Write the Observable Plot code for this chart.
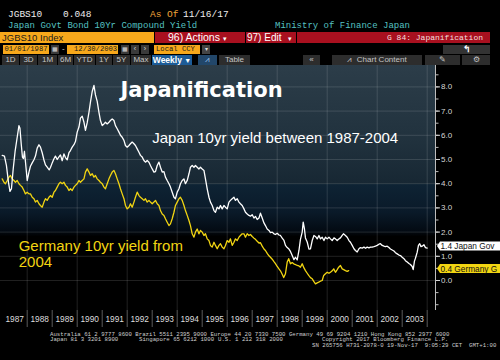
<!DOCTYPE html>
<html><head><meta charset="utf-8">
<script src="https://cdn.jsdelivr.net/npm/d3@7"></script>
<script src="https://cdn.jsdelivr.net/npm/@observablehq/plot@0.6"></script>
<style>
html,body{margin:0;padding:0;background:#000;}
body{width:500px;height:360px;overflow:hidden;position:relative;font-family:"Liberation Sans",Arial,sans-serif;}
.a{position:absolute;white-space:pre;line-height:1;}
.mono{font-family:"Liberation Mono","DejaVu Sans Mono",monospace;}
.b{position:absolute;white-space:pre;overflow:hidden;box-sizing:border-box;}
#chart{position:absolute;left:0;top:65px;}
.tab{background:#2d2d2d;color:#c4c4c4;font-size:8px;text-align:center;top:55px;height:10px;line-height:10px;}
.foot{position:absolute;white-space:pre;font-family:"Liberation Mono","DejaVu Sans Mono",monospace;font-size:5.7px;color:#cfcfcf;line-height:1;}
</style></head><body>

<!-- row 1 -->
<div class="a mono" style="left:8px;top:9.5px;font-size:9.5px;color:#eee">JGBS10</div>
<div class="a mono" style="left:63px;top:9.5px;font-size:9.5px;color:#eee">0.048</div>
<div class="a mono" style="left:150px;top:9.5px;font-size:9.5px;color:#f0a43a">As Of</div>
<div class="a mono" style="left:183px;top:9.5px;font-size:9.5px;color:#eee">11/16/17</div>
<!-- row 2 -->
<div class="a mono" style="left:8px;top:21.5px;font-size:9px;color:#55c2c2">Japan Govt Bond 10Yr Compound Yield</div>
<div class="a mono" style="left:275px;top:21.5px;font-size:9px;color:#55c2c2">Ministry of Finance Japan</div>
<!-- row 3 -->
<div class="b" style="left:0;top:32px;width:154px;height:11px;background:#f7a81b;color:#1a1a1a;font-size:9.5px;line-height:11px;padding-left:2px">JGBS10 Index</div>
<div class="b" style="left:155px;top:32px;width:90px;height:11px;background:#a8101f;color:#fff;font-size:10.5px;line-height:11px;padding-left:13px">96) Actions <span style="font-size:7px">▾</span></div>
<div class="b" style="left:246px;top:32px;width:50px;height:11px;background:#a8101f;color:#fff;font-size:10px;line-height:11px;padding-left:1px">97) Edit <span style="font-size:7px;padding-left:4px">▾</span></div>
<div class="b mono" style="left:297px;top:32px;width:193px;height:11px;background:#a8101f;color:#f3dede;font-size:8px;line-height:11px;text-align:right;padding-right:7px">G 84: Japanification</div>
<!-- row 4 -->
<div class="b mono" style="left:3px;top:45px;width:46px;height:8.5px;background:#f7a81b;color:#1a1a1a;font-size:7.2px;line-height:8.5px;text-align:center">01/01/1987</div>
<div class="b" style="left:51px;top:45px;width:8px;height:8.5px;background:#3a3a3a;color:#ddd;font-size:6px;line-height:8.5px;text-align:center">▦</div>
<div class="a" style="left:62px;top:45px;font-size:8px;color:#ddd">-</div>
<div class="b mono" style="left:67px;top:45px;width:51px;height:8.5px;background:#f7a81b;color:#1a1a1a;font-size:7.2px;line-height:8.5px;padding-left:7px">12/30/2003</div>
<div class="b" style="left:121px;top:45px;width:8px;height:8.5px;background:#3a3a3a;color:#ddd;font-size:6px;line-height:8.5px;text-align:center">▦</div>
<div class="b" style="left:131px;top:45px;width:8px;height:8.5px;background:#3a3a3a;color:#ddd;font-size:7px;line-height:8.5px;text-align:center">‹</div>
<div class="b" style="left:141px;top:45px;width:8px;height:8.5px;background:#3a3a3a;color:#ddd;font-size:7px;line-height:8.5px;text-align:center">›</div>
<div class="b mono" style="left:154px;top:45px;width:46px;height:8.5px;background:#f7a81b;color:#1a1a1a;font-size:7.2px;line-height:8.5px;padding-left:2px">Local CCY</div>
<div class="b" style="left:202px;top:45px;width:8px;height:8.5px;background:#444;color:#ddd;font-size:6px;line-height:8.5px;text-align:center">▾</div>
<div class="b" style="left:443px;top:45px;width:47px;height:8.5px;background:#333;color:#fff;font-size:9px;line-height:8.5px;text-align:center;font-weight:bold">↰</div>
<!-- row 5 -->
<div class="b tab" style="left:2px;width:17px">1D</div>
<div class="b tab" style="left:20px;width:17px">3D</div>
<div class="b tab" style="left:38px;width:19px">1M</div>
<div class="b tab" style="left:58px;width:15px">6M</div>
<div class="b tab" style="left:74px;width:21px">YTD</div>
<div class="b tab" style="left:96px;width:16px">1Y</div>
<div class="b tab" style="left:113px;width:17px">5Y</div>
<div class="b tab" style="left:131px;width:20px">Max</div>
<div class="b tab" style="left:152px;width:40px;background:#1d5c98;color:#fff;font-weight:bold;font-size:8.5px">Weekly <span style="font-size:7px">▼</span></div>
<div class="b tab" style="left:198px;width:19px;background:#22476a;color:#9cc4ea;font-size:8px">⩘</div>
<div class="b tab" style="left:219px;width:31px">Table</div>
<div class="b tab" style="left:303px;width:17px">«</div>
<div class="b tab" style="left:332px;width:90px">⩘  Chart Content</div>
<div class="b tab" style="left:425px;width:35px">✎</div>
<div class="b tab" style="left:462px;width:28px">⚙</div>

<div id="chart"></div>

<div class="foot" style="left:50px;top:331.5px">Australia 61 2 9777 8600 Brazil 5511 2395 9000 Europe 44 20 7330 7500 Germany 49 69 9204 1210 Hong Kong 852 2977 6000</div>
<div class="foot" style="left:50px;top:337px">Japan 81 3 3201 8900</div>
<div class="foot" style="left:139px;top:337px">Singapore 65 6212 1000</div>
<div class="foot" style="left:218px;top:337px">U.S. 1 212 318 2000</div>
<div class="foot" style="left:322px;top:337px">Copyright 2017 Bloomberg Finance L.P.</div>
<div class="foot" style="left:312px;top:342.5px">SN 265756 H731-2078-0 19-Nov-17  9:05:29 CET  GMT+1:00</div>

<script>
// ---- data (decimal year, yield %) ----
const japanYear = [1987.00,1987.09,1987.17,1987.25,1987.31,1987.37,1987.44,1987.52,1987.60,1987.67,1987.71,1987.76,1987.81,1987.85,1987.89,1987.95,
1988.00,1988.07,1988.13,1988.20,1988.27,1988.33,1988.40,1988.47,1988.53,1988.60,1988.67,1988.73,1988.80,1988.88,1988.93,
1989.00,1989.07,1989.13,1989.20,1989.27,1989.33,1989.40,1989.47,1989.53,1989.60,1989.67,1989.73,1989.80,1989.87,1989.93,
1990.00,1990.07,1990.13,1990.20,1990.27,1990.33,1990.40,1990.47,1990.53,1990.60,1990.67,1990.73,1990.80,1990.87,1990.93,
1991.00,1991.07,1991.13,1991.20,1991.27,1991.33,1991.40,1991.47,1991.53,1991.60,1991.67,1991.73,1991.80,1991.87,1991.93,
1992.00,1992.07,1992.13,1992.20,1992.27,1992.33,1992.40,1992.47,1992.53,1992.60,1992.67,1992.73,1992.80,1992.87,1992.93,
1993.00,1993.07,1993.13,1993.20,1993.27,1993.33,1993.40,1993.47,1993.53,1993.60,1993.67,1993.73,1993.80,1993.87,1993.93,
1994.00,1994.07,1994.13,1994.20,1994.27,1994.33,1994.40,1994.47,1994.53,1994.60,1994.67,1994.73,1994.80,1994.87,1994.93,
1995.00,1995.07,1995.13,1995.20,1995.27,1995.33,1995.40,1995.47,1995.53,1995.60,1995.67,1995.73,1995.80,1995.87,1995.93,
1996.00,1996.07,1996.13,1996.20,1996.27,1996.33,1996.40,1996.47,1996.53,1996.60,1996.67,1996.73,1996.80,1996.87,1996.93,
1997.00,1997.07,1997.13,1997.20,1997.27,1997.33,1997.40,1997.47,1997.53,1997.60,1997.67,1997.73,1997.80,1997.87,1997.93,
1998.00,1998.07,1998.13,1998.20,1998.27,1998.33,1998.40,1998.47,1998.53,1998.60,1998.67,1998.73,1998.80,1998.87,1998.93,
1999.00,1999.04,1999.09,1999.13,1999.20,1999.27,1999.33,1999.40,1999.47,1999.53,1999.60,1999.67,1999.73,1999.80,1999.87,1999.93,
2000.00,2000.07,2000.13,2000.20,2000.27,2000.33,2000.40,2000.47,2000.53,2000.60,2000.65,2000.73,2000.80,2000.87,2000.93,
2001.00,2001.07,2001.13,2001.20,2001.27,2001.33,2001.40,2001.47,2001.53,2001.60,2001.67,2001.73,2001.80,2001.87,2001.93,
2002.00,2002.07,2002.13,2002.20,2002.27,2002.33,2002.40,2002.47,2002.53,2002.60,2002.67,2002.73,2002.80,2002.87,2002.93,
2003.00,2003.07,2003.13,2003.20,2003.27,2003.33,2003.40,2003.44,2003.49,2003.53,2003.60,2003.65,2003.70,2003.75,2003.80,2003.87,2003.93,2004.00];
const japanYield = [5.17,5.14,4.75,4.06,3.68,3.79,4.61,5.37,5.92,6.40,6.29,5.65,5.10,5.04,5.34,4.69,
4.13,4.48,4.72,4.86,4.99,5.14,5.47,5.61,5.51,5.28,4.98,4.78,4.68,4.57,4.67,
4.86,5.03,5.14,5.00,5.11,5.19,4.95,5.23,5.08,4.99,5.28,5.37,5.51,5.61,5.74,
6.13,6.34,6.71,6.79,6.54,6.20,6.52,6.95,7.37,7.81,8.06,7.67,7.40,6.95,6.61,
6.40,6.47,6.54,6.47,6.54,6.61,6.68,6.61,6.40,6.27,6.13,6.00,5.92,5.79,5.58,
5.51,5.58,5.65,5.72,5.65,5.58,5.44,5.30,5.17,5.10,4.96,4.89,4.96,4.89,4.75,
4.61,4.48,4.50,4.75,4.89,4.68,4.48,4.50,4.27,4.13,4.00,3.86,3.65,3.44,3.38,
3.65,3.79,4.00,4.13,4.20,4.00,4.13,4.41,4.68,4.75,4.68,4.75,4.68,4.61,4.68,
4.61,4.55,4.20,3.79,3.44,3.24,3.10,2.89,2.82,3.03,2.96,3.10,2.96,3.10,3.03,
2.96,3.24,3.31,3.38,3.44,3.31,3.38,3.24,3.17,3.10,2.96,2.82,2.75,2.69,2.66,
2.72,2.58,2.65,2.52,2.58,2.78,2.58,2.38,2.27,2.13,2.07,1.98,2.00,1.93,1.90,
1.95,1.88,1.86,1.75,1.66,1.45,1.36,1.30,1.20,1.03,0.86,0.96,0.85,1.24,1.70,
2.00,2.41,2.13,1.76,1.59,1.30,1.31,1.65,1.86,1.82,1.72,1.86,1.72,1.79,1.65,1.79,
1.72,1.79,1.72,1.65,1.76,1.72,1.65,1.72,1.76,1.86,1.93,1.86,1.79,1.65,1.58,
1.45,1.31,1.24,1.18,1.31,1.36,1.34,1.38,1.33,1.38,1.35,1.38,1.38,1.40,1.42,
1.45,1.50,1.52,1.45,1.42,1.40,1.42,1.36,1.30,1.26,1.22,1.15,1.10,1.05,1.03,
0.96,0.90,0.82,0.76,0.70,0.66,0.58,0.45,0.80,0.92,1.17,1.45,1.52,1.40,1.42,1.48,1.36,1.34];

const germanyYear = [1987.00,1987.07,1987.13,1987.20,1987.27,1987.33,1987.40,1987.47,1987.53,1987.60,1987.67,1987.73,1987.80,1987.87,1987.93,
1988.00,1988.07,1988.13,1988.20,1988.27,1988.33,1988.40,1988.47,1988.53,1988.60,1988.67,1988.73,1988.80,1988.87,1988.93,
1989.00,1989.07,1989.13,1989.20,1989.27,1989.33,1989.40,1989.47,1989.53,1989.60,1989.67,1989.73,1989.80,1989.87,1989.93,
1990.00,1990.07,1990.13,1990.20,1990.27,1990.33,1990.40,1990.47,1990.53,1990.60,1990.67,1990.73,1990.80,1990.87,1990.93,
1991.00,1991.07,1991.13,1991.20,1991.27,1991.33,1991.40,1991.47,1991.53,1991.60,1991.67,1991.73,1991.80,1991.87,1991.93,
1992.00,1992.07,1992.13,1992.20,1992.27,1992.33,1992.40,1992.47,1992.53,1992.60,1992.67,1992.73,1992.80,1992.87,1992.93,
1993.00,1993.07,1993.13,1993.20,1993.27,1993.33,1993.40,1993.47,1993.53,1993.60,1993.67,1993.73,1993.80,1993.87,1993.93,
1994.00,1994.07,1994.13,1994.20,1994.27,1994.33,1994.40,1994.47,1994.53,1994.60,1994.67,1994.73,1994.80,1994.87,1994.93,
1995.00,1995.07,1995.13,1995.20,1995.27,1995.33,1995.40,1995.47,1995.53,1995.60,1995.67,1995.73,1995.80,1995.87,1995.93,
1996.00,1996.07,1996.13,1996.20,1996.27,1996.33,1996.40,1996.47,1996.53,1996.60,1996.67,1996.73,1996.80,1996.87,1996.93,
1997.00,1997.07,1997.13,1997.20,1997.27,1997.33,1997.40,1997.47,1997.53,1997.60,1997.67,1997.73,1997.80,1997.87,1997.93,
1998.00,1998.07,1998.13,1998.20,1998.26,1998.33,1998.40,1998.46,1998.53,1998.60,1998.66,1998.73,1998.80,1998.87,1998.93,
1999.00,1999.07,1999.13,1999.20,1999.26,1999.33,1999.40,1999.47,1999.53,1999.60,1999.66,1999.73,1999.80,1999.86,1999.93,
2000.00,2000.07,2000.13,2000.20,2000.26,2000.33,2000.40,2000.46,2000.53,2000.60,2000.66,2000.73,2000.80,2000.86];
const germanyYield = [4.20,4.06,4.00,4.13,4.27,4.34,4.20,4.13,4.06,4.13,4.00,3.93,3.86,3.72,3.58,
3.65,3.58,3.58,3.44,3.38,3.24,3.31,3.17,3.10,3.03,3.24,3.38,3.31,3.44,3.51,
3.44,3.65,3.72,3.86,4.00,4.06,4.00,4.06,3.93,3.86,3.72,3.79,3.72,3.86,3.93,
4.00,4.13,4.06,4.13,4.20,4.48,4.61,4.48,4.34,4.41,4.27,4.34,4.20,4.13,4.06,
4.00,3.86,3.79,4.00,4.20,4.34,4.48,4.55,4.41,4.20,4.00,3.79,3.58,3.38,3.10,
2.96,3.03,3.17,3.03,3.24,3.44,3.65,3.51,3.44,3.38,3.31,3.38,3.24,3.31,3.24,
3.17,3.24,3.31,3.17,3.10,2.89,2.75,2.69,2.55,2.41,2.27,2.34,2.55,2.82,3.10,
3.24,3.38,3.44,3.31,3.10,2.89,2.69,2.48,2.27,1.93,1.79,2.00,2.13,1.93,2.07,
2.00,1.86,1.93,1.72,1.65,1.45,1.38,1.58,1.45,1.31,1.45,1.52,1.38,1.31,1.45,
1.65,1.58,1.72,1.45,1.58,1.72,1.65,1.79,1.86,1.93,1.93,1.79,1.93,1.86,1.90,
1.82,1.75,1.70,1.62,1.55,1.56,1.42,1.30,1.24,1.12,1.02,0.96,0.88,0.78,0.70,
0.58,0.48,0.40,0.26,0.12,0.28,0.76,0.90,0.69,0.74,0.69,0.66,0.62,0.60,0.55,
0.69,0.52,0.41,0.30,0.21,0.12,0.07,-0.05,-0.14,-0.10,-0.07,-0.03,0.00,0.21,0.28,
0.34,0.30,0.34,0.40,0.48,0.34,0.45,0.55,0.62,0.48,0.45,0.41,0.38,0.41];

const yearTicks = d3.range(1988, 2005);            // separators
const yearLabels = d3.range(1987, 2004);           // "1987" ... "2003"
const gridYears = d3.range(1988, 2005, 2);
const yTicks = d3.range(0, 9);
const yMinor = d3.range(-1, 8.6, 0.5);
const annotations = [
  {x: 1991.73, y: 8.24, text: "Japanification", font: "DejaVu Sans", size: 21, weight: "bold", color: "#ffffff"},
  {x: 1993.0, y: 6.15, text: "Japan 10yr yield between 1987-2004", font: "Liberation Sans", size: 15, weight: "normal", color: "#ffffff"},
  {x: 1987.66, y: 1.68, text: "Germany 10yr yield from\n2004", font: "Liberation Sans", size: 15, weight: "normal", color: "#f2d512"}
];
const endTags = [
  {value: japanYield[japanYield.length - 1], label: "1.4 Japan Gov", fill: "#ffffff"},
  {value: germanyYield[germanyYield.length - 1], label: "0.4 Germany G", fill: "#f2d512"}
];

const japan = japanYear.map((t, i) => ({t, v: japanYield[i]}));
const germany = germanyYear.map((t, i) => ({t, v: germanyYield[i]}));

function background(index, scales, values, dim) {
  const ns = "http://www.w3.org/2000/svg";
  const g = document.createElementNS(ns, "g");
  g.innerHTML = `<defs><linearGradient id="bg" x1="0" y1="0" x2="0" y2="1">
    <stop offset="0" stop-color="#2c3d49"/>
    <stop offset="0.30" stop-color="#21323e"/>
    <stop offset="0.486" stop-color="#172733"/>
    <stop offset="0.487" stop-color="#0e2334"/>
    <stop offset="0.60" stop-color="#0a1a29"/>
    <stop offset="0.68" stop-color="#030a12"/>
    <stop offset="0.70" stop-color="#000000"/>
    <stop offset="1" stop-color="#000000"/>
  </linearGradient></defs>`;
  const r = document.createElementNS(ns, "rect");
  r.setAttribute("x", dim.marginLeft);
  r.setAttribute("y", dim.marginTop);
  r.setAttribute("width", dim.width - dim.marginLeft - dim.marginRight);
  r.setAttribute("height", dim.height - dim.marginTop - dim.marginBottom);
  r.setAttribute("fill", "url(#bg)");
  g.appendChild(r);
  return g;
}

function endLabels(index, scales, values, dim) {
  const ns = "http://www.w3.org/2000/svg";
  const g = document.createElementNS(ns, "g");
  g.setAttribute("text-anchor", "start");
  const x0 = dim.width - dim.marginRight + 2;
  for (const d of endTags) {
    const y = scales.y(d.value) - 1.5;
    const gg = document.createElementNS(ns, "g");
    gg.setAttribute("transform", `translate(${x0},${y})`);
    const p = document.createElementNS(ns, "path");
    p.setAttribute("d", "M0,0L3,-4.5L70,-4.5L70,4.5L3,4.5Z");
    p.setAttribute("fill", d.fill);
    gg.appendChild(p);
    const t = document.createElementNS(ns, "text");
    t.setAttribute("x", 3.5);
    t.setAttribute("dy", "0.36em");
    t.setAttribute("text-anchor", "start");
    t.setAttribute("fill", "#111");
    t.setAttribute("font-size", "8.3px");
    t.setAttribute("font-family", "Liberation Sans, Arial, sans-serif");
    t.textContent = d.label;
    gg.appendChild(t);
    g.appendChild(gg);
  }
  return g;
}

const plot = Plot.plot({
  width: 500,
  height: 265,
  marginLeft: 0,
  marginRight: 65,
  marginTop: 0,
  marginBottom: 20,
  style: {background: "transparent", color: "#dcdcdc", fontFamily: "Liberation Sans, Arial, sans-serif", fontSize: "8.5px"},
  x: {type: "linear", domain: [1986.932, 2004.332], axis: null},
  y: {domain: [-1.2397, 8.8843], axis: null},
  marks: [
    background,
    Plot.ruleY(yTicks, {stroke: "#ffffff", strokeOpacity: 0.13, strokeWidth: 1}),
    Plot.ruleX(gridYears, {stroke: "#ffffff", strokeOpacity: 0.13, strokeWidth: 1}),
    Plot.ruleX([2004.332], {stroke: "#bdbdbd", strokeWidth: 1}),
    Plot.line(germany, {x: "t", y: "v", stroke: "#f2d512", strokeWidth: 1.3}),
    Plot.line(japan, {x: "t", y: "v", stroke: "#ffffff", strokeWidth: 1.3}),
    ...annotations.map(a => Plot.text([a], {x: "x", y: "y", text: "text", textAnchor: "start", lineAnchor: "top", lineHeight: 1.05,
      fill: a.color, fontSize: a.size, fontWeight: a.weight, fontFamily: a.font})),
    Plot.axisY({anchor: "right", ticks: yMinor, tickSize: 2.5, tickFormat: () => "", color: "#bdbdbd"}),
    Plot.axisY({anchor: "right", ticks: yTicks, tickSize: 4, tickPadding: 1.5, tickFormat: d => d.toFixed(1), color: "#d6d6d6", fontSize: 8}),
    Plot.axisX({anchor: "bottom", ticks: yearTicks, tickSize: 17, tickFormat: () => "", color: "#5a5a5a"}),
    Plot.axisX({anchor: "bottom", ticks: yearLabels.map(y => y + 0.5), tickSize: 0, tickPadding: 5.5, tickFormat: d => String(Math.floor(d)), color: "#dedede", fontSize: 8.3}),
    endLabels
  ]
});
document.getElementById("chart").appendChild(plot);
</script>
</body></html>
